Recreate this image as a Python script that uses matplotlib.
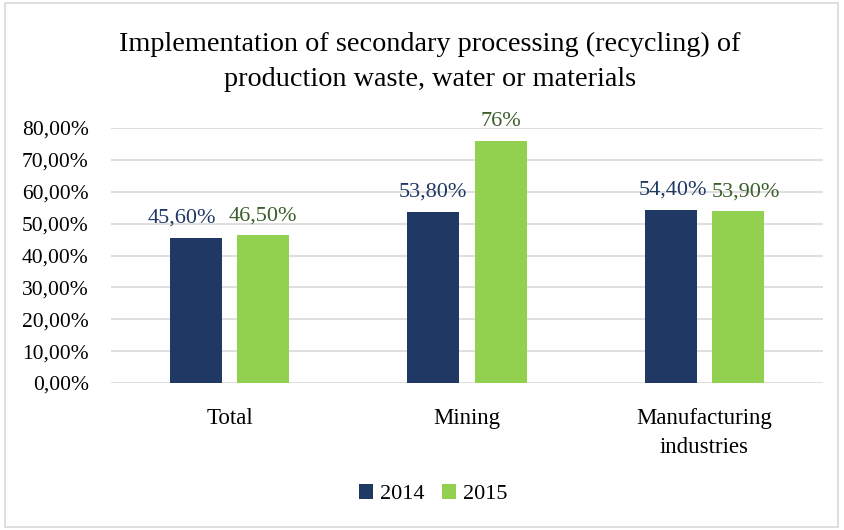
import matplotlib
matplotlib.use("Agg")
import matplotlib.pyplot as plt
import numpy as np
from matplotlib.ticker import FuncFormatter
from matplotlib.patches import Rectangle

categories = ["Total", "Mining", "Manufacturing\nindustries"]
series_names = ["2014", "2015"]
values_2014 = [45.6, 53.8, 54.4]
values_2015 = [46.5, 76.0, 53.9]
labels_2014 = ["45,60%", "53,80%", "54,40%"]
labels_2015 = ["46,50%", "76%", "53,90%"]
title = "Implementation of secondary processing (recycling) of\nproduction waste, water or materials"

FONT = "Liberation Serif"
plt.rcParams["font.family"] = [FONT, "DejaVu Serif"]

c14 = "#203864"
c15 = "#92D050"
lc14 = "#203864"
lc15 = "#3B5E2B"

fig = plt.figure(figsize=(8.45, 5.3), dpi=100)
fig.patch.set_facecolor("white")
fig.add_artist(Rectangle((0.006, 0.006), 0.986, 0.988, transform=fig.transFigure,
                         fill=False, edgecolor="#D9D9D9", linewidth=1.2))

ax = fig.add_axes([111/845, 1-383/530, 712/845, 255/530])
x = np.arange(len(categories))
w = 0.22
off = 0.142
b1 = ax.bar(x - off, values_2014, w, color=c14, label=series_names[0], zorder=3)
b2 = ax.bar(x + off, values_2015, w, color=c15, label=series_names[1], zorder=3)

ax.set_xlim(-0.5, 2.5)
ax.set_ylim(0, 80)
ax.set_yticks(np.arange(0, 81, 10))
ax.yaxis.set_major_formatter(FuncFormatter(lambda v, p: f"{v:.2f}".replace(".", ",") + "%"))
ax.grid(axis="y", color="#D9D9D9", linewidth=1.2, zorder=0)
for s in ax.spines.values():
    s.set_visible(False)
ax.tick_params(axis="both", length=0, colors="#000000")
ax.tick_params(axis="y", pad=16, labelsize=15.5)
ax.tick_params(axis="x", pad=18)
ax.set_xticks(x)
ax.set_xticklabels(categories, fontsize=16.5, linespacing=1.5)

nudge14 = [-10, 0, 2]
nudge15 = [0, 0, 6]
for i in range(len(categories)):
    ax.annotate(labels_2014[i], (x[i] - off, values_2014[i]), xytext=(nudge14[i], 7),
                textcoords="offset points", ha="center", va="bottom",
                fontsize=16, color=lc14)
    ax.annotate(labels_2015[i], (x[i] + off, values_2015[i]), xytext=(nudge15[i], 7),
                textcoords="offset points", ha="center", va="bottom",
                fontsize=16, color=lc15)

fig.text(430/845, 1-62/530, title, ha="center", va="center", fontsize=20.3,
         linespacing=1.5, color="#000000")

leg = fig.legend(handles=[b1, b2], labels=series_names, loc="center",
                 bbox_to_anchor=(433/845, 1-494/530), ncol=2, frameon=False,
                 fontsize=16, handlelength=0.65, handleheight=0.65,
                 handletextpad=0.3, columnspacing=0.8)

fig.savefig("out.png", dpi=100, facecolor="white")
